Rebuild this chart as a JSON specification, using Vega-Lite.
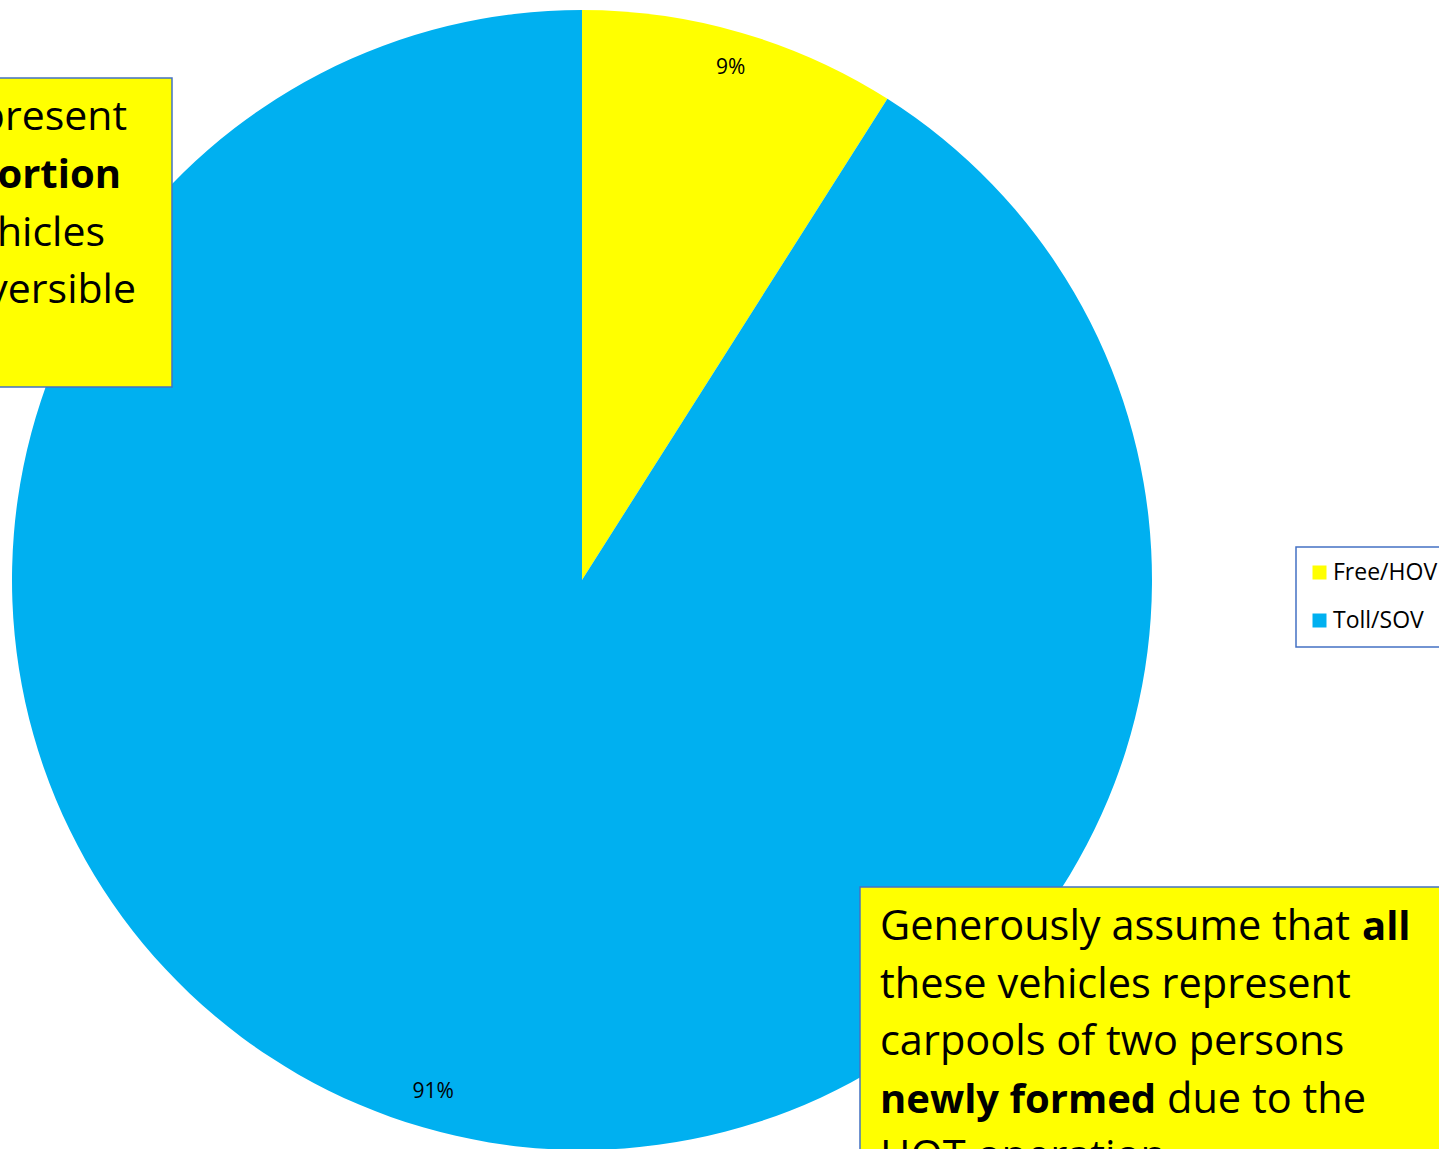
{
  "$schema": "https://vega.github.io/schema/vega-lite/v6.json",
  "width": 1439,
  "height": 1149,
  "autosize": {"type": "none"},
  "padding": 0,
  "background": "white",
  "config": {"view": {"stroke": null}, "font": "Open Sans"},
  "data": {"values": [
    {"category": "Free/HOV", "share": 9, "label": "9%", "rank": 1},
    {"category": "Toll/SOV", "share": 91, "label": "91%", "rank": 2}
  ]},
  "layer": [
    {
      "mark": {"type": "arc", "outerRadius": 570},
      "encoding": {
        "theta": {"field": "share", "type": "quantitative", "stack": true},
        "order": {"field": "rank", "type": "quantitative"},
        "color": {
          "field": "category", "type": "nominal",
          "scale": {"domain": ["Free/HOV", "Toll/SOV"], "range": ["#FFFF00", "#00B0F0"]},
          "legend": {
            "title": null, "orient": "none", "legendX": 1296, "legendY": 547,
            "strokeColor": "#4472C4", "fillColor": "white",
            "padding": 14, "symbolType": "square", "symbolSize": 196,
            "symbolStrokeWidth": 0, "labelFontSize": 23, "labelFont": "Open Sans",
            "labelColor": "black", "labelOffset": 2, "symbolOffset": -2, "rowPadding": 24,
            "encode": {"legend": {"update": {"strokeWidth": {"value": 1.5}}}}
          }
        },
        "x": {"datum": 0, "type": "quantitative", "scale": {"domain": [-1.02105, 1.50351], "nice": false, "zero": false}, "axis": null},
        "y": {"datum": 0, "type": "quantitative", "scale": {"domain": [-0.99825, 1.01754], "nice": false, "zero": false}, "axis": null}
      }
    },
    {
      "mark": {"type": "text", "radius": 533, "fontSize": 21, "font": "Open Sans", "color": "black"},
      "encoding": {
        "theta": {"field": "share", "type": "quantitative", "stack": true},
        "order": {"field": "rank", "type": "quantitative"},
        "text": {"field": "label"},
        "x": {"datum": 0, "type": "quantitative"},
        "y": {"datum": 0, "type": "quantitative"}
      }
    },
    {
      "data": {"values": [{"note": "left"}]},
      "mark": {"type": "rect", "fill": "#FFFF00", "stroke": "#4472C4", "strokeWidth": 1.5},
      "encoding": {
        "x": {"datum": -1.1, "type": "quantitative"},
        "x2": {"datum": -0.7193},
        "y": {"datum": 0.8807, "type": "quantitative"},
        "y2": {"datum": 0.3386}
      }
    },
    {
      "data": {"values": [{"note": "right"}]},
      "mark": {"type": "rect", "fill": "#FFFF00", "stroke": "#4472C4", "strokeWidth": 1.5},
      "encoding": {
        "x": {"datum": 0.4877, "type": "quantitative"},
        "x2": {"datum": 1.6105},
        "y": {"datum": -0.5386, "type": "quantitative"},
        "y2": {"datum": -1.0877}
      }
    },
    {
      "data": {"values": [{"t": "represent"}]},
      "mark": {"type": "text", "align": "right", "baseline": "middle", "fontSize": 41, "font": "Open Sans", "color": "black"},
      "encoding": {"text": {"field": "t"}, "x": {"datum": -0.7982, "type": "quantitative"}, "y": {"datum": 0.8105, "type": "quantitative"}}
    },
    {
      "data": {"values": [{"t": "proportion"}]},
      "mark": {"type": "text", "align": "right", "baseline": "middle", "fontSize": 40, "fontWeight": "bold", "font": "Open Sans", "color": "black"},
      "encoding": {"text": {"field": "t"}, "x": {"datum": -0.8088, "type": "quantitative"}, "y": {"datum": 0.7088, "type": "quantitative"}}
    },
    {
      "data": {"values": [{"t": "vehicles"}]},
      "mark": {"type": "text", "align": "right", "baseline": "middle", "fontSize": 41, "font": "Open Sans", "color": "black"},
      "encoding": {"text": {"field": "t"}, "x": {"datum": -0.8368, "type": "quantitative"}, "y": {"datum": 0.6070, "type": "quantitative"}}
    },
    {
      "data": {"values": [{"t": "reversible"}]},
      "mark": {"type": "text", "align": "right", "baseline": "middle", "fontSize": 41, "font": "Open Sans", "color": "black"},
      "encoding": {"text": {"field": "t"}, "x": {"datum": -0.7825, "type": "quantitative"}, "y": {"datum": 0.5070, "type": "quantitative"}}
    },
    {
      "data": {"values": [{"t": "Generously assume that"}]},
      "mark": {"type": "text", "align": "left", "baseline": "middle", "fontSize": 41.5, "font": "Open Sans", "color": "black"},
      "encoding": {"text": {"field": "t"}, "x": {"datum": 0.5228, "type": "quantitative"}, "y": {"datum": -0.6105, "type": "quantitative"}}
    },
    {
      "data": {"values": [{"t": "all"}]},
      "mark": {"type": "text", "align": "left", "baseline": "middle", "fontSize": 40, "fontWeight": "bold", "font": "Open Sans", "color": "black"},
      "encoding": {"text": {"field": "t"}, "x": {"datum": 1.3684, "type": "quantitative"}, "y": {"datum": -0.6105, "type": "quantitative"}}
    },
    {
      "data": {"values": [{"t": "these vehicles represent"}]},
      "mark": {"type": "text", "align": "left", "baseline": "middle", "fontSize": 41.5, "font": "Open Sans", "color": "black"},
      "encoding": {"text": {"field": "t"}, "x": {"datum": 0.5228, "type": "quantitative"}, "y": {"datum": -0.7123, "type": "quantitative"}}
    },
    {
      "data": {"values": [{"t": "carpools of two persons"}]},
      "mark": {"type": "text", "align": "left", "baseline": "middle", "fontSize": 41.5, "font": "Open Sans", "color": "black"},
      "encoding": {"text": {"field": "t"}, "x": {"datum": 0.5228, "type": "quantitative"}, "y": {"datum": -0.8123, "type": "quantitative"}}
    },
    {
      "data": {"values": [{"t": "newly formed"}]},
      "mark": {"type": "text", "align": "left", "baseline": "middle", "fontSize": 40, "fontWeight": "bold", "font": "Open Sans", "color": "black"},
      "encoding": {"text": {"field": "t"}, "x": {"datum": 0.5228, "type": "quantitative"}, "y": {"datum": -0.9140, "type": "quantitative"}}
    },
    {
      "data": {"values": [{"t": "due to the"}]},
      "mark": {"type": "text", "align": "left", "baseline": "middle", "fontSize": 41.5, "font": "Open Sans", "color": "black"},
      "encoding": {"text": {"field": "t"}, "x": {"datum": 1.0263, "type": "quantitative"}, "y": {"datum": -0.9140, "type": "quantitative"}}
    },
    {
      "data": {"values": [{"t": "HOT operation."}]},
      "mark": {"type": "text", "align": "left", "baseline": "middle", "fontSize": 41.5, "font": "Open Sans", "color": "black"},
      "encoding": {"text": {"field": "t"}, "x": {"datum": 0.5228, "type": "quantitative"}, "y": {"datum": -1.0140, "type": "quantitative"}}
    }
  ]
}
